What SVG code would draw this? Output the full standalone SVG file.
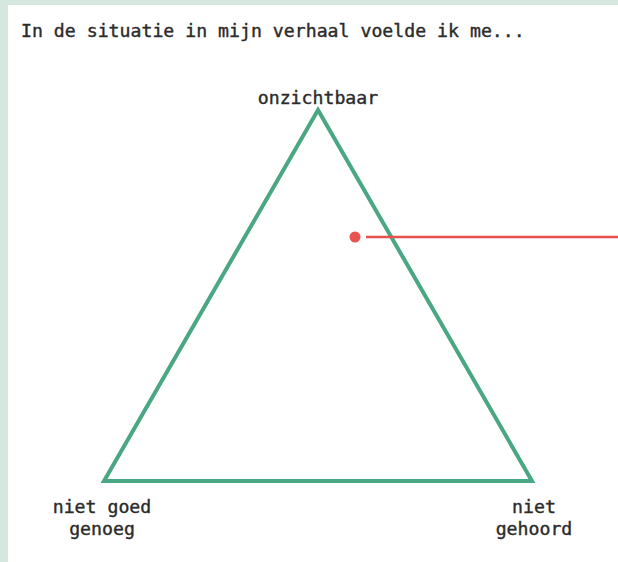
<svg xmlns="http://www.w3.org/2000/svg" width="618" height="562" viewBox="0 0 618 562">
<style>
.t{font-family:"DejaVu Sans Mono","Liberation Mono",monospace;font-size:18.2px;font-weight:normal;fill:#2b2b2b;stroke:#2b2b2b;stroke-width:0.4px}
.c{text-anchor:middle}
</style>
<rect x="0" y="0" width="618" height="562" fill="#d5e7df"/>
<rect x="8" y="5" width="610" height="557" fill="#ffffff"/>
<text class="t" x="21" y="37">In de situatie in mijn verhaal voelde ik me...</text>
<g id="triangle">
<polygon points="318,110 104,481 532,481" fill="none" stroke="#4aa783" stroke-width="4" stroke-linejoin="miter"/>
</g>
<g id="onzichtbaar"><text class="t c" x="318" y="104">onzichtbaar</text></g>
<g id="niet-goed-genoeg"><text class="t c" x="102" y="513">niet goed</text><text class="t c" x="102" y="535">genoeg</text></g>
<g id="niet-gehoord"><text class="t c" x="534" y="513">niet</text><text class="t c" x="534" y="535">gehoord</text></g>
<g id="connectors">
<circle cx="355" cy="237" r="5.5" fill="#e8524f"/>
<line x1="366" y1="237" x2="618" y2="237" stroke="#e8524f" stroke-width="2.5"/>
</g>
</svg>
